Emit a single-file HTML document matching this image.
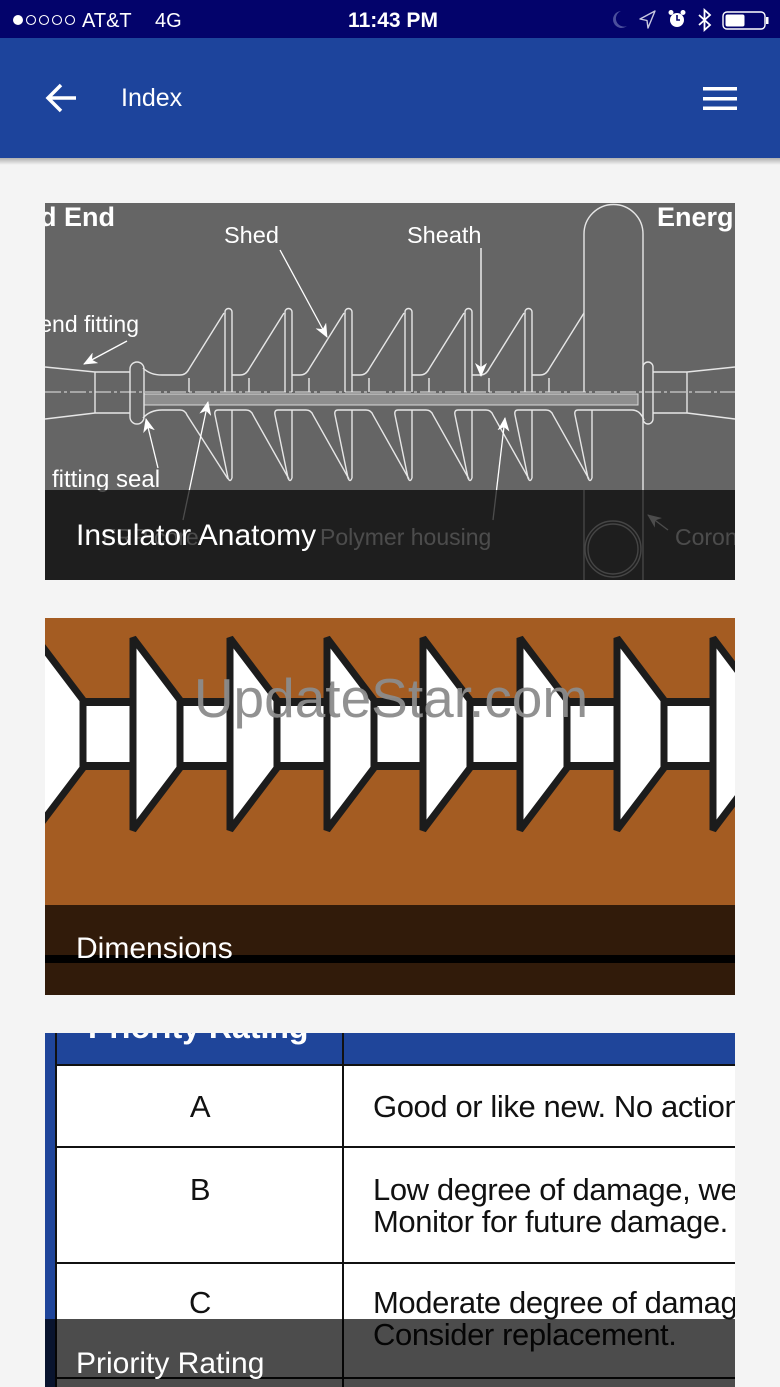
<!DOCTYPE html>
<html><head><meta charset="utf-8">
<style>
html,body{margin:0;padding:0;width:780px;height:1387px;overflow:hidden;background:#f4f4f4;}
svg{display:block;font-family:"Liberation Sans",Arial,sans-serif;}
</style></head><body>
<svg width="780" height="1387" viewBox="0 0 780 1387" xmlns="http://www.w3.org/2000/svg">
<defs>
<clipPath id="c1"><rect x="45" y="203" width="690" height="377"/></clipPath>
<clipPath id="c2"><rect x="45" y="618" width="690" height="377"/></clipPath>
<clipPath id="c3"><rect x="45" y="1033" width="690" height="377"/></clipPath>
<marker id="ah" viewBox="0 0 14 12" refX="13" refY="6" markerWidth="14" markerHeight="12" markerUnits="userSpaceOnUse" orient="auto"><path d="M0,0 L14,6 L0,12 L4,6 Z" fill="#fff"/></marker>
<linearGradient id="sh" x1="0" y1="0" x2="0" y2="1"><stop offset="0" stop-color="#000" stop-opacity=".28"/><stop offset="1" stop-color="#000" stop-opacity="0"/></linearGradient>
</defs>
<rect width="780" height="1387" fill="#f4f4f4"/>

<!-- Status bar -->
<rect width="780" height="38" fill="#03036b"/>
<circle cx="18" cy="20" r="5" fill="#fff"/>
<g fill="none" stroke="#fff" stroke-width="1.1">
<circle cx="31" cy="20" r="4.5"/><circle cx="44" cy="20" r="4.5"/><circle cx="57" cy="20" r="4.5"/><circle cx="70" cy="20" r="4.5"/>
</g>
<text x="82" y="27" font-size="20" fill="#fff">AT&amp;T</text>
<text x="155" y="27" font-size="20" fill="#fff">4G</text>
<text x="393" y="27" font-size="21" font-weight="bold" fill="#fff" text-anchor="middle">11:43 PM</text>
<path d="M621,11 A8.5,8.5 0 1,0 627,26 A7,7 0 0,1 621,11 Z" fill="#4b4f9c"/>
<path d="M655,11 L640,19 L647,20.5 L648,28 Z" fill="none" stroke="#c8c8e0" stroke-width="1.4" stroke-linejoin="round"/>
<circle cx="677" cy="20" r="7" fill="#fff"/>
<circle cx="671" cy="12.5" r="2.5" fill="#fff"/><circle cx="683" cy="12.5" r="2.5" fill="#fff"/>
<path d="M677,15 V20 H680" stroke="#03036b" stroke-width="1.6" fill="none"/>
<path d="M699,15 L710,25 L704.5,30 V10 L710,15 L699,25" stroke="#fff" stroke-width="1.8" fill="none"/>
<rect x="723" y="12" width="42" height="17" rx="4" stroke="#fff" stroke-width="1.4" fill="none"/>
<rect x="725.5" y="14.5" width="19" height="12" rx="2" fill="#fff"/>
<rect x="766" y="17" width="2.5" height="7" fill="#fff"/>

<!-- Header -->
<rect y="38" width="780" height="120" fill="#1d449c"/>
<rect y="158" width="780" height="7" fill="url(#sh)"/>
<path d="M76,98 H49 M61,85 L48,98 L61,111" stroke="#fff" stroke-width="3.5" fill="none"/>
<text x="121" y="106" font-size="25" fill="#fff">Index</text>
<rect x="703" y="87" width="34" height="3.5" fill="#fff"/>
<rect x="703" y="97" width="34" height="3.5" fill="#fff"/>
<rect x="703" y="106.5" width="34" height="3.5" fill="#fff"/>

<!-- Card 1: Insulator Anatomy -->
<g clip-path="url(#c1)">
<rect x="45" y="203" width="690" height="377" fill="#656565"/>
<rect x="144" y="394" width="494" height="11" fill="#8e8e8e" stroke="#d8d8d8" stroke-width="1"/>
<g fill="none" stroke="#e6e6e6" stroke-width="1.4">
<path d="M45,367 L95,372 H130 M45,419 L95,413 H130 M95,372 V413"/>
<rect x="130" y="362" width="14" height="62" rx="7"/>
<path d="M143,368 Q150,375 162,375 H180 Q186,375 189,369 L224,313"/>
<path d="M225,392 V312 A3.5,3.5 0 0 1 232,312 V392 M189,378 V392"/>
<path d="M232,375 H240 Q246,375 249,369 L284,313 M285,392 V312 A3.5,3.5 0 0 1 292,312 V392 M249,378 V392"/>
<path d="M292,375 H300 Q306,375 309,369 L344,313 M345,392 V312 A3.5,3.5 0 0 1 352,312 V392 M309,378 V392"/>
<path d="M352,375 H360 Q366,375 369,369 L404,313 M405,392 V312 A3.5,3.5 0 0 1 412,312 V392 M369,378 V392"/>
<path d="M412,375 H420 Q426,375 429,369 L464,313 M465,392 V312 A3.5,3.5 0 0 1 472,312 V392 M429,378 V392"/>
<path d="M472,375 H480 Q486,375 489,369 L524,313 M525,392 V312 A3.5,3.5 0 0 1 532,312 V392 M489,378 V392"/>
<path d="M532,375 H540 Q546,375 549,369 L584,313 M549,378 V392"/>
<path d="M143,418 Q150,410 162,410 H180 Q185,410 187,415 L228,479"/>
<path d="M232,410 V478 M218,410 Q214,410 215,415 L228,478 Q230,483 232,478 M218,410 H246 Q251,410 253,415 L289,479"/>
<path d="M292,410 V478 M278,410 Q274,410 275,415 L288,478 Q290,483 292,478 M278,410 H306 Q311,410 313,415 L349,479"/>
<path d="M352,410 V478 M338,410 Q334,410 335,415 L348,478 Q350,483 352,478 M338,410 H366 Q371,410 373,415 L409,479"/>
<path d="M412,410 V478 M398,410 Q394,410 395,415 L408,478 Q410,483 412,478 M398,410 H426 Q431,410 433,415 L469,479"/>
<path d="M472,410 V478 M458,410 Q454,410 455,415 L468,478 Q470,483 472,478 M458,410 H486 Q491,410 493,415 L529,479"/>
<path d="M532,410 V478 M518,410 Q514,410 515,415 L528,478 Q530,483 532,478 M518,410 H546 Q551,410 553,415 L589,479"/>
<path d="M592,410 V478 M578,410 Q574,410 575,415 L588,478 Q590,483 592,478 M578,410 H632 Q640,410 644,420"/>
<path d="M584,392 V234 A29.5,29.5 0 0 1 643,234 V585 M584,490 V585"/>
<circle cx="613" cy="549" r="28"/><circle cx="613" cy="549" r="25"/>
<rect x="643" y="362" width="10" height="62" rx="5"/>
<path d="M653,372 H687 L735,367 M653,413 H687 L735,419 M687,372 V413"/>
</g>
<path d="M45,392 H735" stroke="#e6e6e6" stroke-width="1" stroke-dasharray="16 3 3 3"/>
<g stroke="#fff" stroke-width="1.3" fill="none" marker-end="url(#ah)">
<path d="M127,341 L84,364"/>
<path d="M280,250 L327,337"/>
<path d="M481,248 L481,376"/>
<path d="M158,468 L146,419"/>
<path d="M183,520 L208,402"/>
<path d="M493,520 L505,418"/>
<path d="M668,530 L648,515"/>
</g>
<g fill="#fff">
<text x="115" y="226" font-size="27" font-weight="bold" text-anchor="end">Dead End</text>
<text x="657" y="226" font-size="27" font-weight="bold">Energized End</text>
<text x="224" y="243" font-size="23.5">Shed</text>
<text x="407" y="243" font-size="23.5">Sheath</text>
<text x="139" y="332" font-size="23" text-anchor="end">Dead end fitting</text>
<text x="52" y="487" font-size="24">fitting seal</text>
<text x="102" y="545" font-size="23">FRP core</text>
<text x="320" y="545" font-size="23">Polymer housing</text>
<text x="675" y="545" font-size="23">Corona ring</text>
</g>
<rect x="45" y="490" width="690" height="90" fill="#000" opacity=".7"/>
<text x="76" y="545" font-size="30" fill="#fff">Insulator Anatomy</text>
</g>

<!-- Card 2: Dimensions -->
<g clip-path="url(#c2)">
<rect x="45" y="618" width="690" height="377" fill="#a45c22"/>
<rect x="38" y="702" width="704" height="64" fill="#fff" stroke="#1c1c1c" stroke-width="8"/>
<g fill="#fff" stroke="#1c1c1c" stroke-width="7" stroke-linejoin="miter" stroke-miterlimit="1.5">
<polygon points="36,638 83,700 83,768 36,830"/>
<polygon points="133,638 180,700 180,768 133,830"/>
<polygon points="230,638 277,700 277,768 230,830"/>
<polygon points="327,638 374,700 374,768 327,830"/>
<polygon points="423,638 470,700 470,768 423,830"/>
<polygon points="520,638 567,700 567,768 520,830"/>
<polygon points="617,638 664,700 664,768 617,830"/>
<polygon points="713,638 760,700 760,768 713,830"/>
</g>
<text x="391" y="717" font-size="55" fill="#8c8c8c" opacity=".95" text-anchor="middle">UpdateStar.com</text>
<rect x="45" y="955" width="690" height="8" fill="#000"/>
<rect x="45" y="905" width="690" height="90" fill="#000" opacity=".7"/>
<text x="76" y="958" font-size="30" fill="#fff">Dimensions</text>
</g>

<!-- Card 3: Priority Rating -->
<g clip-path="url(#c3)">
<rect x="45" y="1033" width="690" height="377" fill="#fff"/>
<rect x="45" y="1033" width="690" height="32" fill="#1f459a"/>
<rect x="45" y="1033" width="11" height="377" fill="#1f459a"/>
<text x="88" y="1038" font-size="32" font-weight="bold" fill="#fff">Priority Rating</text>
<g fill="#111">
<rect x="55" y="1033" width="2" height="377"/>
<rect x="342" y="1033" width="2" height="377"/>
<rect x="56" y="1064" width="679" height="2"/>
<rect x="56" y="1146" width="679" height="2"/>
<rect x="56" y="1262" width="679" height="2"/>
<rect x="56" y="1377" width="679" height="2"/>
</g>
<g fill="#111" font-size="31" letter-spacing="-0.4">
<text x="200" y="1117" text-anchor="middle">A</text>
<text x="200" y="1200" text-anchor="middle">B</text>
<text x="200" y="1313" text-anchor="middle">C</text>
<text x="373" y="1117">Good or like new. No action required.</text>
<text x="373" y="1200">Low degree of damage, weathering.</text>
<text x="373" y="1232">Monitor for future damage.</text>
<text x="373" y="1313">Moderate degree of damage.</text>
<text x="373" y="1345">Consider replacement.</text>
</g>
<rect x="45" y="1319" width="690" height="91" fill="#000" opacity=".7"/>
<text x="76" y="1373" font-size="30" fill="#fff">Priority Rating</text>
</g>
</svg>
</body></html>
